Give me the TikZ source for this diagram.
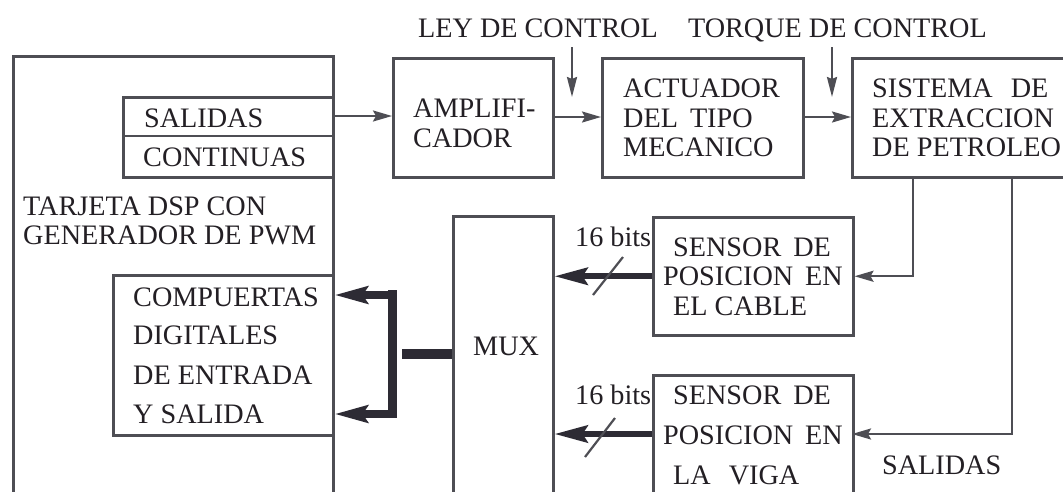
\documentclass[tikz,border=0pt]{standalone}
\usepackage{fontspec}
\setmainfont{Liberation Serif}
\usetikzlibrary{arrows.meta}
\definecolor{ink}{RGB}{35,31,36}
\definecolor{linec}{RGB}{78,78,84}
\definecolor{busc}{RGB}{45,43,52}
\begin{document}
\begin{tikzpicture}[x=1pt,y=-1pt,
  box/.style={draw=linec, line width=2.5pt, inner sep=0pt, anchor=north west},
  txt/.style={anchor=base west, inner sep=0pt, text=ink, font=\fontsize{28.2}{30}\selectfont},
  arr/.style={draw=linec, line width=2.2pt, -{Stealth[length=19pt,width=11pt,inset=3pt]}},
  darr/.style={draw=linec, line width=2.2pt, -{Stealth[length=20pt,width=10pt,inset=2pt]}},
  bus/.style={draw=busc, line width=7pt},
  busarr/.style={bus, -{Stealth[length=33pt,width=17pt,inset=5pt]}},
  slash/.style={draw=linec, line width=2.2pt}]
\useasboundingbox (0,0) rectangle (1063,491);
\clip (0,0) rectangle (1063,491);
\fill[white] (0,0) rectangle (1063,491);

% boxes
\node[box, minimum width=320pt, minimum height=470pt] (dsp) at (12,55) {};
\node[box, minimum width=210pt, minimum height=80pt] (sal) at (122,96) {};
\coordinate (divL) at (122,136);
\draw[draw=linec, line width=2.5pt] (divL) -- (divL -| sal.east);
\node[box, minimum width=220pt, minimum height=160pt] (comp) at (112,274) {};
\node[box, minimum width=160pt, minimum height=119pt] (amp) at (392,57) {};
\node[box, minimum width=201pt, minimum height=119pt] (act) at (601,57) {};
\node[box, minimum width=260pt, minimum height=119pt] (sis) at (851,57) {};
\node[box, minimum width=100pt, minimum height=300pt] (mux) at (452,215) {};
\node[box, minimum width=200pt, minimum height=118pt] (senc) at (652,216) {};
\node[box, minimum width=200pt, minimum height=140pt] (senv) at (652,374) {};

% texts
\node[txt] (sal1) at (144,127) {SALIDAS};
\node[txt] (sal2) at (143,166) {CONTINUAS};
\node[txt] (dsp1) at (23,215) {TARJETA DSP CON};
\node[txt] (dsp2) at (23,244) {GENERADOR DE PWM};
\node[txt] (cmp1) at (133,306) {COMPUERTAS};
\node[txt] (cmp2) at (133,344) {DIGITALES};
\node[txt] (cmp3) at (133,384) {DE ENTRADA};
\node[txt] (cmp4) at (133,423) {Y SALIDA};
\node[txt] (amp1) at (413,117) {AMPLIFI-};
\node[txt] (amp2) at (413,147) {CADOR};
\node[txt] (act1) at (623,97) {ACTUADOR};
\node[txt] (act2) at (623,127) {DEL\hspace{12pt}TIPO};
\node[txt] (act3) at (623,156) {MECANICO};
\node[txt] (sis1) at (872,97) {SISTEMA\hspace{18pt}DE};
\node[txt] (sis2) at (872,127) {EXTRACCION};
\node[txt] (sis3) at (872,156) {DE PETROLEO};
\node[txt, anchor=base east] (ley) at (658,37) {LEY DE CONTROL};
\node[txt, anchor=base east] (torq) at (987,37) {TORQUE DE CONTROL};
\node[txt] (muxt) at (473,355) {MUX};
\node[txt] (sc1) at (673,256) {SENSOR\hspace{12pt}DE};
\node[txt] (sc2) at (663,285) {POSICION\hspace{12pt}EN};
\node[txt] (sc3) at (673,315) {EL CABLE};
\node[txt] (sv1) at (673,404) {SENSOR\hspace{12pt}DE};
\node[txt] (sv2) at (663,444) {POSICION\hspace{12pt}EN};
\node[txt] (sv3) at (673,484) {LA\hspace{18pt}VIGA};
\node[txt] (bits1) at (575,246) {16 bits};
\node[txt] (bits2) at (575,404) {16 bits};
\node[txt] (salout) at (882,474) {SALIDAS};

% top chain
\coordinate (o1) at (332,116);
\draw[arr] (o1) -- (o1 -| amp.west);
\coordinate (o2) at (552,117);
\draw[arr] (o2) -- (o2 -| act.west);
\coordinate (o3) at (802,117);
\draw[arr] (o3) -- (o3 -| sis.west);
\coordinate (ley0) at (572,47);
\coordinate (ley1) at (572,97);
\draw[darr] (ley0) -- (ley1);
\coordinate (tq0) at (832,47);
\coordinate (tq1) at (832,97);
\draw[darr] (tq0) -- (tq1);

% feedback to sensors
\coordinate (f1) at (913,176);
\draw[arr] (f1) |- (senc.east);
\coordinate (f2) at (1012,176);
\coordinate (v2) at (852,434);
\draw[arr] (f2) |- (v2);

% sensor buses to MUX
\draw[busarr, line width=6pt] (senc.west) -- (senc.west -| mux.east);
\coordinate (sv) at (652,434);
\draw[busarr, line width=6pt] (sv) -- (sv -| mux.east);
\draw[slash] (593,295) -- (623,257);
\draw[slash] (585,457) -- (615,418);

% MUX to digital ports
\coordinate (bj) at (402,354);
\draw[draw=busc, line width=10pt] (bj) -- (bj -| mux.west);
\coordinate (vt) at (392,290);
\coordinate (vb) at (392,418);
\draw[draw=busc, line width=9pt] (vt) -- (vb);
\coordinate (a1) at (396,295);
\draw[busarr, line width=8pt] (a1) -- (a1 -| comp.east);
\coordinate (a2) at (396,414);
\draw[busarr, line width=8pt] (a2) -- (a2 -| comp.east);
\end{tikzpicture}
\end{document}
